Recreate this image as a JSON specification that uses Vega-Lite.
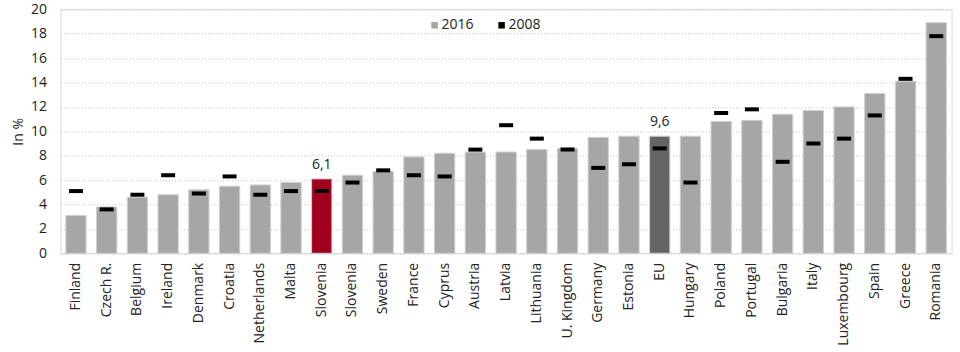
{
  "$schema": "https://vega.github.io/schema/vega-lite/v6.json",
  "autosize": {"type": "none"},
  "padding": {"left": 60.6, "top": 9.3, "right": 8.3, "bottom": 98.7},
  "width": 891,
  "height": 244,
  "config": {
    "font": "Open Sans",
    "view": {"stroke": "#d9d9d9", "strokeWidth": 1}
  },
  "data": {
    "values": [
      {"key": "Finland", "v2016": 3.1, "v2008": 5.1, "type": "c"},
      {"key": "Czech R.", "v2016": 3.8, "v2008": 3.6, "type": "c"},
      {"key": "Belgium", "v2016": 4.6, "v2008": 4.8, "type": "c"},
      {"key": "Ireland", "v2016": 4.8, "v2008": 6.4, "type": "c"},
      {"key": "Denmark", "v2016": 5.2, "v2008": 4.9, "type": "c"},
      {"key": "Croatia", "v2016": 5.5, "v2008": 6.3, "type": "c"},
      {"key": "Netherlands", "v2016": 5.6, "v2008": 4.8, "type": "c"},
      {"key": "Malta", "v2016": 5.8, "v2008": 5.1, "type": "c"},
      {"key": "Slovenia", "v2016": 6.1, "v2008": 5.1, "type": "si", "label": "6,1"},
      {"key": "Slovenia*", "v2016": 6.4, "v2008": 5.8, "type": "c"},
      {"key": "Sweden", "v2016": 6.7, "v2008": 6.8, "type": "c"},
      {"key": "France", "v2016": 7.9, "v2008": 6.4, "type": "c"},
      {"key": "Cyprus", "v2016": 8.2, "v2008": 6.3, "type": "c"},
      {"key": "Austria", "v2016": 8.3, "v2008": 8.5, "type": "c"},
      {"key": "Latvia", "v2016": 8.3, "v2008": 10.5, "type": "c"},
      {"key": "Lithuania", "v2016": 8.5, "v2008": 9.4, "type": "c"},
      {"key": "U. Kingdom", "v2016": 8.6, "v2008": 8.5, "type": "c"},
      {"key": "Germany", "v2016": 9.5, "v2008": 7.0, "type": "c"},
      {"key": "Estonia", "v2016": 9.6, "v2008": 7.3, "type": "c"},
      {"key": "EU", "v2016": 9.6, "v2008": 8.6, "type": "eu", "label": "9,6"},
      {"key": "Hungary", "v2016": 9.6, "v2008": 5.8, "type": "c"},
      {"key": "Poland", "v2016": 10.8, "v2008": 11.5, "type": "c"},
      {"key": "Portugal", "v2016": 10.9, "v2008": 11.8, "type": "c"},
      {"key": "Bulgaria", "v2016": 11.4, "v2008": 7.5, "type": "c"},
      {"key": "Italy", "v2016": 11.7, "v2008": 9.0, "type": "c"},
      {"key": "Luxembourg", "v2016": 12.0, "v2008": 9.4, "type": "c"},
      {"key": "Spain", "v2016": 13.1, "v2008": 11.3, "type": "c"},
      {"key": "Greece", "v2016": 14.1, "v2008": 14.3, "type": "c"},
      {"key": "Romania", "v2016": 18.9, "v2008": 17.8, "type": "c"}
    ]
  },
  "encoding": {
    "x": {
      "field": "key", "type": "nominal", "sort": null,
      "scale": {"paddingInner": 0.34, "paddingOuter": 0.17},
      "axis": {"title": null, "labelAngle": -90, "ticks": false, "domain": false, "labelPadding": 9, "labelFont": "Open Sans", "labelFontSize": 14, "labelColor": "#222", "labelExpr": "replace(datum.label, '*', '')"}
    }
  },
  "layer": [
    {
      "mark": {"type": "bar", "stroke": "#cfcfcf", "strokeWidth": 1},
      "encoding": {
        "y": {
          "field": "v2016", "type": "quantitative",
          "scale": {"domain": [0, 20], "nice": false},
          "axis": {"title": "In %", "values": [0, 2, 4, 6, 8, 10, 12, 14, 16, 18, 20], "labelOverlap": false, "ticks": false, "domain": false, "labelPadding": 14, "titlePadding": 5, "labelFont": "Open Sans", "labelFontSize": 14, "labelColor": "#222", "titleFont": "Open Sans", "titleFontSize": 14, "titleFontWeight": "normal", "titleColor": "#222", "gridColor": "#c0c0c0", "gridDash": [1, 2], "gridWidth": 1}
        },
        "color": {
          "datum": "2016",
          "condition": [
            {"test": "datum.type === 'si'", "value": "#a0001e"},
            {"test": "datum.type === 'eu'", "value": "#646464"}
          ],
          "scale": {"domain": ["2016", "2008"], "range": ["#a6a6a6", "#000000"]},
          "legend": {
            "title": null, "orient": "none", "direction": "horizontal", "legendX": 367, "legendY": 9,
            "labelFont": "Open Sans", "labelFontSize": 14, "labelColor": "#222", "symbolSize": 42, "symbolStrokeWidth": 0, "symbolOpacity": 1, "labelOffset": 0, "columnPadding": 20,
            "encode": {"symbols": {"shape": {"condition": {"test": "datum.value === '2008'", "value": "M-1.5,-0.45H1.5V0.45H-1.5Z"}, "value": "square"}}}
          }
        }
      }
    },
    {
      "mark": {"type": "tick", "thickness": 4, "size": 14, "opacity": 1},
      "encoding": {
        "y": {"field": "v2008", "type": "quantitative", "axis": {"title": "In %", "values": [0, 2, 4, 6, 8, 10, 12, 14, 16, 18, 20], "labelOverlap": false}},
        "color": {"datum": "2008", "legend": null}
      }
    },
    {
      "transform": [{"filter": "datum.label != null"}],
      "mark": {"type": "text", "baseline": "bottom", "dy": -7, "fontSize": 14, "font": "Open Sans", "color": "#222"},
      "encoding": {
        "y": {"field": "v2016", "type": "quantitative", "axis": {"title": "In %", "values": [0, 2, 4, 6, 8, 10, 12, 14, 16, 18, 20], "labelOverlap": false}},
        "text": {"field": "label"}
      }
    }
  ]
}
